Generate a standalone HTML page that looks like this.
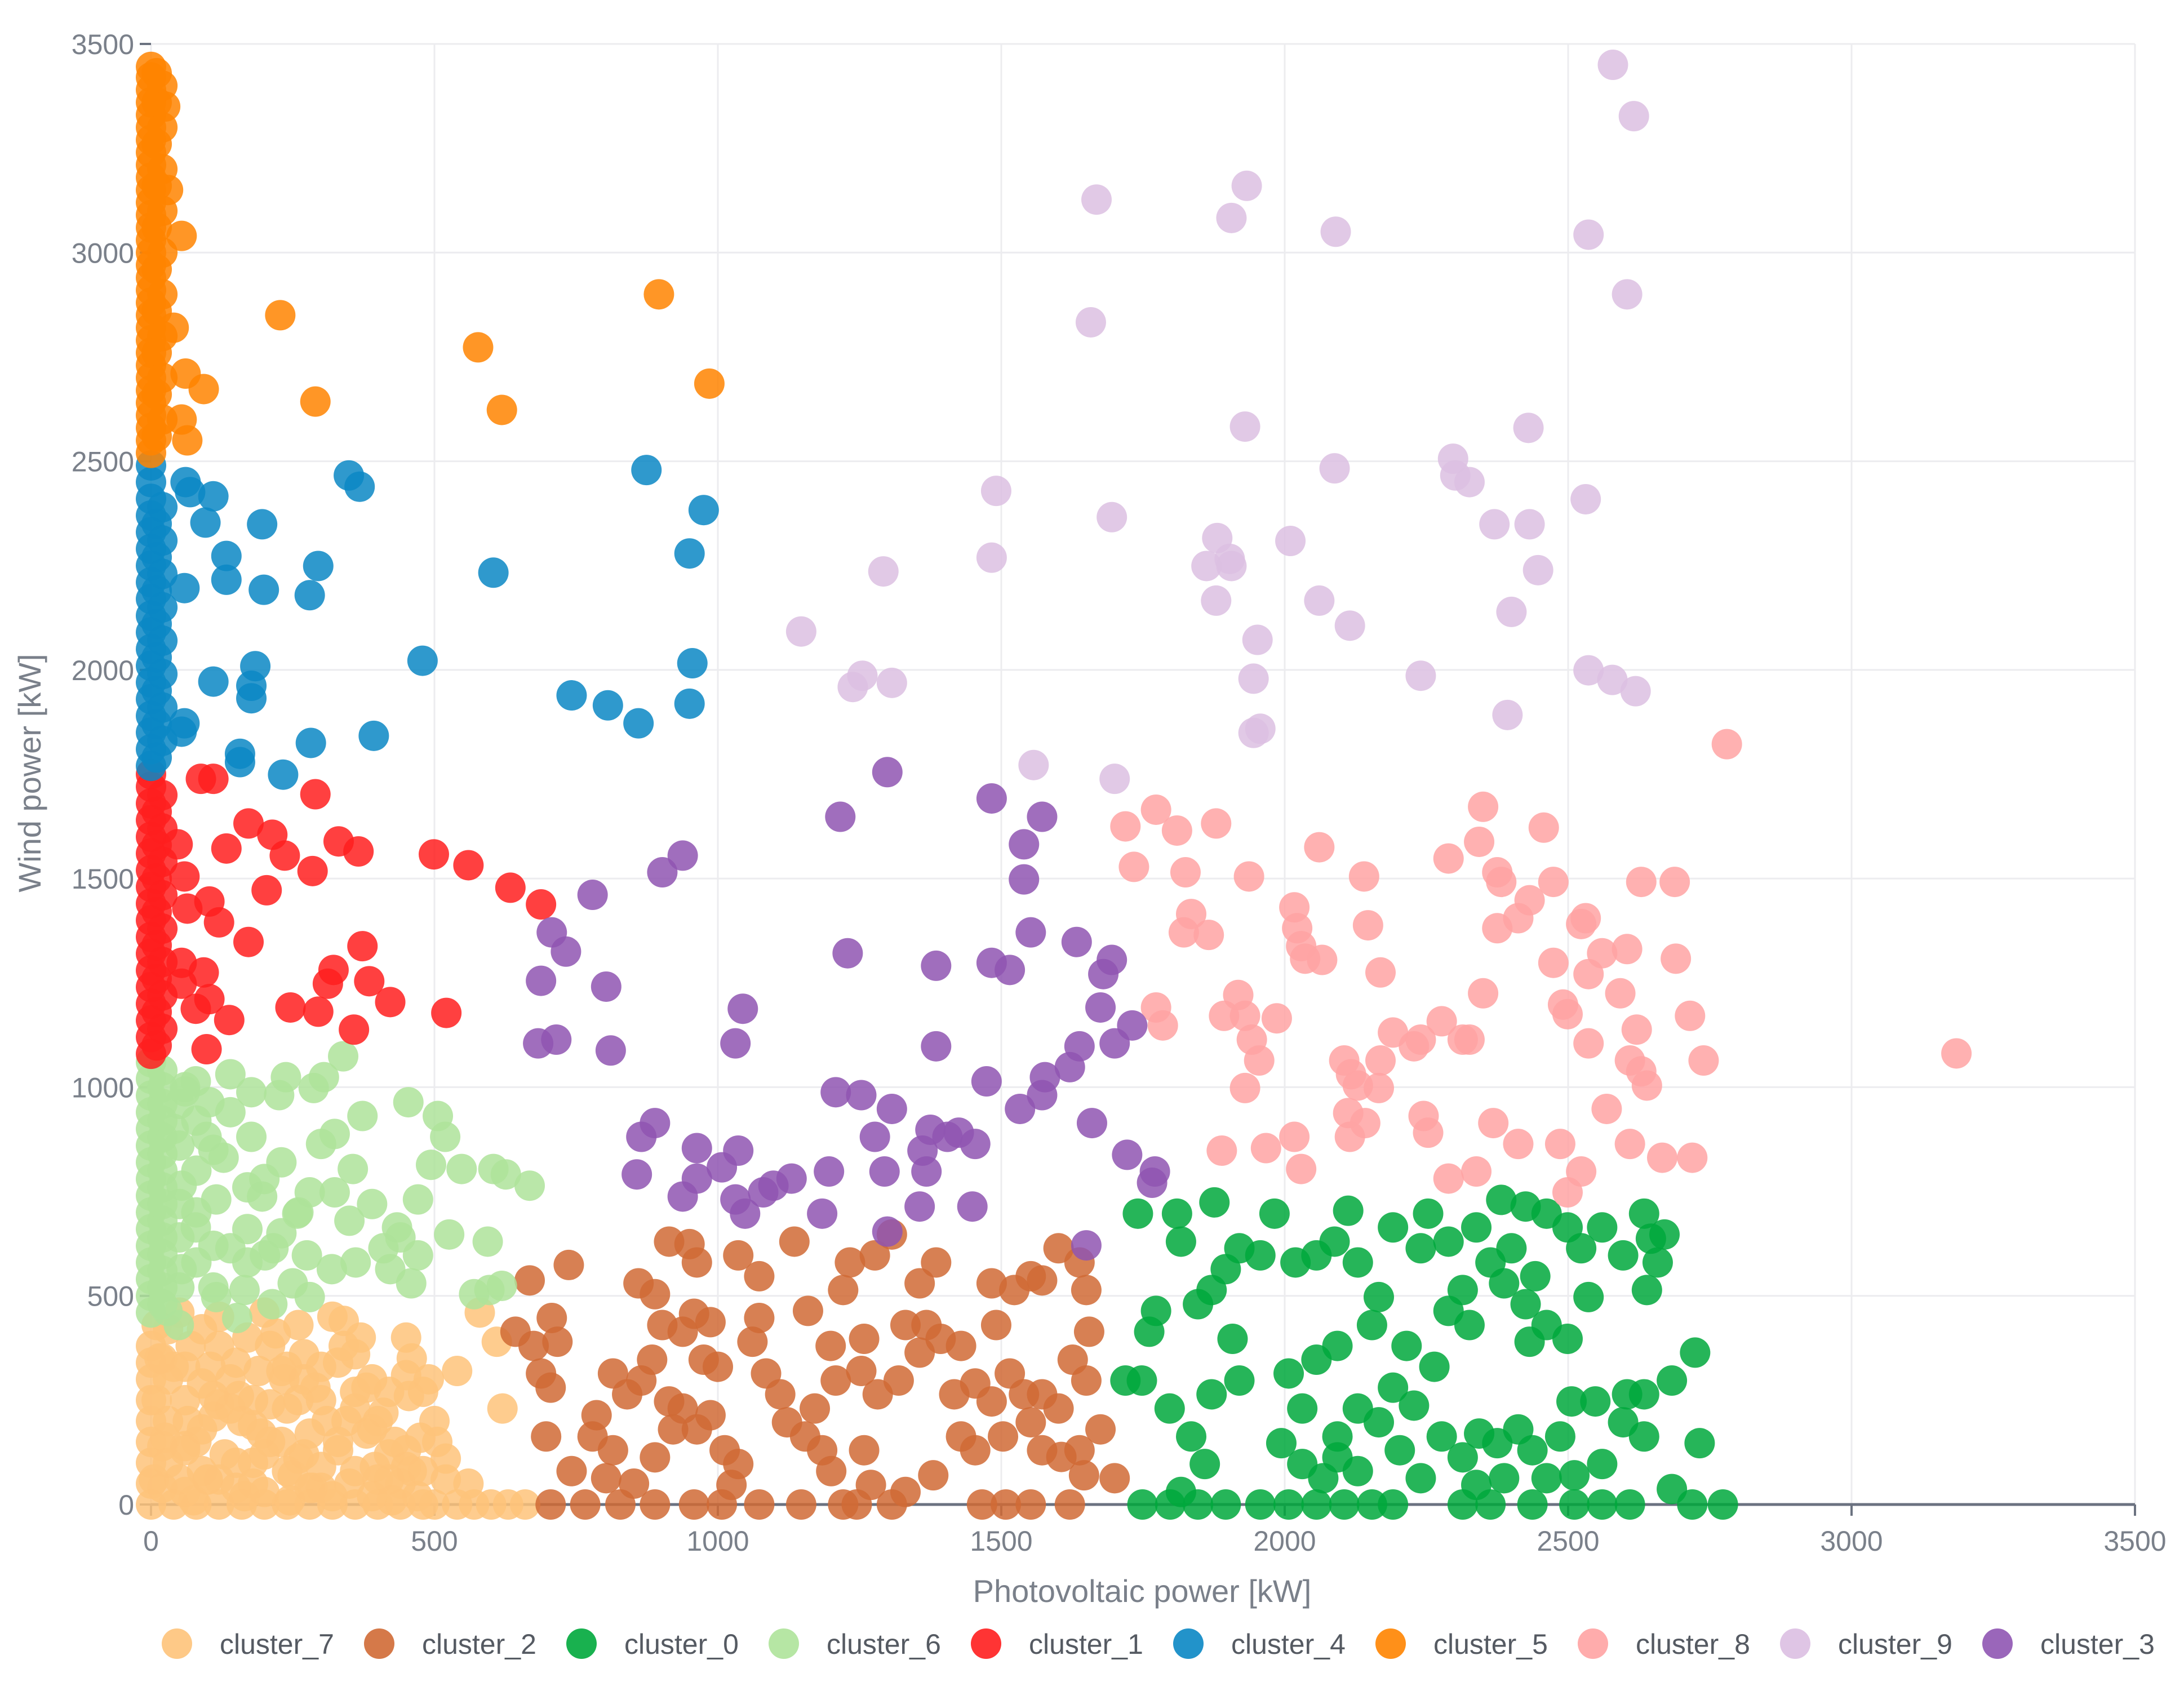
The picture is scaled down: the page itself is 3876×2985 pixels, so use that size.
<!DOCTYPE html>
<html><head><meta charset="utf-8">
<style>
html,body{margin:0;padding:0;background:#fff;}
svg{display:block;font-family:"Liberation Sans",sans-serif;}
</style></head>
<body>
<svg id="chart" width="3876" height="2985" viewBox="0 0 3876 2985" xmlns="http://www.w3.org/2000/svg">
<g id="grid"></g>
<g id="axes"></g>
<g id="points"></g>
<text x="2027" y="2843" font-size="56" fill="#7a808a" text-anchor="middle">Photovoltaic power [kW]</text>
<text transform="translate(72,1372) rotate(-90)" font-size="56" fill="#7a808a" text-anchor="middle">Wind power [kW]</text>
<g id="legend"></g>
</svg>
<script>
const xTicks=[0,500,1000,1500,2000,2500,3000,3500];
const yTicks=[0,500,1000,1500,2000,2500,3000,3500];
const seriesNames=["cluster_7","cluster_2","cluster_0","cluster_6","cluster_1","cluster_4","cluster_5","cluster_8","cluster_9","cluster_3"];
const seriesColors=["#fec37a","#d06a35","#00a83c","#aee39a","#ff1e1e","#0a87c4","#ff8400","#ffa3a3","#dcbfe2","#8f55b2"];

const c7x=[0,0,0,0,30,40,60,80,100,120,140,160,180,200,220,240,260,280,300,320,340,360,380,400,420,440,460,480,500,520,25,50,70,90,110,130,150,170,190,210,230,250,270,290,310,330,350,370,390,410,430,450,470,490,505,520,540,580,610,620,560,450,320,260,200,120,50,10,20,75,105,165,195,245,285,345,395,425,455,235,155,65,475,0,40,80,120,160,200,240,280,320,360,400,440,480,500,540,570,600,630,660,10,15,5,20,
 0,0,0,0,30,30,30,60,60,60,90,90,90,120,120,150,150,180,180,210,210,240,240,270,270,300,300,330,330,360,360,390,390,420,420,450,450,480,100,200,300,400,140,260,360,460,60,180,280,380,20,110,230,340];
const c7y=[380,300,200,100,420,330,250,150,60,380,300,200,100,30,410,330,250,170,90,20,440,360,280,200,120,50,350,270,200,110,160,60,380,290,210,120,40,400,320,240,150,70,360,280,200,130,50,400,300,220,150,90,20,300,150,60,320,460,390,230,50,400,450,430,460,450,460,250,40,10,330,20,170,10,40,200,90,10,260,300,260,200,160,0,0,0,0,0,0,0,0,0,0,0,0,0,0,0,0,0,0,0,430,350,60,140,
 50,150,250,340,100,200,300,30,130,330,80,180,420,60,240,100,340,50,250,150,380,80,230,120,300,40,250,150,340,80,230,20,180,60,270,130,310,80,60,120,330,60,230,110,270,80,140,190,40,170,350,260,320,380];

const c2x=[668,737,707,643,675,717,688,705,697,742,705,766,828,852,815,786,840,865,884,902,860,889,914,950,963,938,958,987,975,1000,938,963,987,1012,1036,1024,1007,958,1073,1147,1221,1245,1307,1331,1270,1200,1184,1171,1208,1253,1282,1319,1356,1368,1393,1429,1454,1483,1515,1540,1552,1572,1606,1638,1675,1650,1626,1655,1601,1552,1523,1491,1483,1385,1307,1277,1233,1221,1159,1135,1073,1036,1061,1085,1122,1110,1154,889,803,779,815,889,914,921,1073,1258,1380,1454,1466,1508,1552,1621,1646,1700,1601,1572,1503,1429,1417,1331,1356,1258,1199,1650,1572,1638];
const c2y=[537,574,447,414,380,390,314,280,163,80,0,0,0,50,130,214,264,297,347,430,530,504,630,624,580,414,457,437,347,330,230,180,214,130,97,47,0,0,0,0,0,0,0,30,47,80,130,230,297,320,264,297,364,430,397,380,290,247,314,264,197,130,114,130,180,297,347,414,614,547,514,430,530,580,647,597,580,514,464,630,547,597,390,314,197,264,163,0,63,163,314,113,247,180,447,130,70,130,0,0,0,0,70,63,230,264,163,163,264,430,530,397,380,514,537,580];

const c0x=[1741,1810,1876,1817,1773,1761,1719,1748,1797,1835,1859,1847,1896,1957,1749,1798,1817,1871,1920,1908,1847,1871,1896,1920,1957,1982,2019,2056,2088,2112,2129,2166,2191,2240,2253,2289,2314,2363,2338,2382,2425,2400,2442,2462,2499,2523,2536,2560,2597,2634,2646,2658,2639,2670,2724,2683,2634,2597,2548,2506,2486,2437,2412,2375,2343,2314,2277,2240,2203,2166,2129,2093,2068,2031,1994,2031,2007,2056,2093,2154,2215,2264,2289,2326,2387,2425,2462,2499,2432,2191,2228,2007,2056,2105,2154,2191,2314,2363,2437,2511,2560,2609,2719,2773,2683,2732,2511,2462,2387,2338,2129,2093,2560,2634,2604];
const c0y=[697,697,724,630,464,414,297,297,230,163,97,0,0,0,0,0,30,264,297,397,480,514,564,614,597,697,580,597,630,704,580,497,664,614,697,630,514,580,664,730,714,614,547,697,664,614,497,664,597,697,637,580,514,647,364,297,264,197,247,247,163,130,180,147,170,113,163,63,130,197,230,163,63,97,147,230,314,347,380,430,380,330,464,430,530,480,430,397,390,280,237,0,0,0,0,0,0,0,0,0,0,0,0,0,37,147,70,63,63,47,80,113,97,163,264];

const c6x=[0,0,0,0,0,0,0,0,0,0,0,0,0,0,0,0,20,20,20,20,20,20,20,20,20,20,20,20,20,20,20,79,103,140,98,128,54,115,79,140,54,115,165,177,177,226,238,287,305,339,300,324,373,356,280,258,196,216,275,319,250,214,324,280,361,410,434,422,471,459,471,454,506,519,494,548,604,626,668,594,526,570,597,619,201,152,49,29,40,60,
 50,50,50,50,50,80,80,80,80,110,110,110,170,170,170,230,230,260,350,390,440,60,140,200];
const c6y=[460,500,540,580,620,660,700,740,780,820,860,900,940,980,1020,1060,480,520,560,600,640,680,720,760,800,840,880,920,960,1000,1040,1014,964,1031,881,831,764,731,664,614,564,497,514,881,988,981,1024,998,1024,1074,864,888,931,804,748,697,738,614,597,564,530,480,748,497,580,614,664,564,597,530,731,964,931,881,814,804,804,791,764,630,647,504,514,524,597,447,430,464,900,1000,
 520,640,720,860,960,580,700,800,920,620,850,520,660,760,580,650,820,700,680,720,640,990,940,780];

const c1x=[0,0,0,0,0,0,0,0,0,0,0,0,0,0,0,0,0,0,10,10,10,10,10,10,10,10,47,59,64,88,110,133,172,214,236,204,103,120,172,54,54,93,103,79,98,138,290,285,331,366,499,560,634,688,373,322,312,385,422,246,295,358,521,20,20,20,20,20,20,20,20];
const c1y=[1080,1120,1160,1200,1240,1280,1320,1360,1400,1440,1480,1520,1560,1600,1640,1680,1720,1750,1100,1180,1260,1340,1420,1500,1580,1660,1582,1505,1428,1739,1739,1572,1632,1605,1555,1472,1445,1395,1348,1298,1248,1275,1211,1188,1091,1161,1702,1518,1589,1565,1558,1532,1478,1438,1338,1281,1248,1254,1204,1191,1181,1138,1178,1140,1220,1300,1380,1460,1540,1620,1700];

const c4x=[0,0,0,0,0,0,0,0,0,0,0,0,0,0,0,0,0,0,0,10,10,10,10,10,10,10,10,61,69,110,96,133,133,196,199,59,295,280,349,368,604,874,975,950,479,184,110,177,177,59,54,157,157,233,282,393,742,806,860,955,950,20,20,20,20,20,20,20,20];
const c4y=[1770,1810,1850,1890,1930,1970,2010,2050,2090,2130,2170,2210,2250,2290,2330,2370,2410,2450,2490,1790,1870,1950,2030,2110,2190,2270,2350,2450,2426,2416,2353,2273,2216,2349,2192,2196,2249,2179,2466,2439,2233,2479,2383,2279,2022,2009,1972,1932,1962,1872,1852,1799,1779,1749,1825,1842,1939,1915,1872,2016,1919,1830,1910,1990,2070,2150,2230,2310,2390];

const c5x=[0,0,0,0,0,0,0,0,0,0,0,0,0,0,0,0,0,0,0,0,0,0,0,0,0,0,0,0,0,0,0,0,10,10,10,10,10,10,10,10,10,10,54,228,93,61,290,54,64,577,619,896,985,30,25,40,20,20,20,20,20,20,20,20,20];
const c5y=[2520,2550,2580,2610,2640,2670,2700,2730,2760,2790,2820,2850,2880,2910,2940,2970,3000,3030,3060,3090,3120,3150,3180,3210,3240,3270,3300,3330,3360,3390,3420,3445,2560,2660,2760,2860,2960,3060,3160,3260,3360,3430,3040,2850,2673,2710,2643,2600,2550,2773,2623,2900,2686,3150,3350,2820,2600,2700,2800,2900,3000,3100,3200,3300,3400];

const c8x=[2780,3185,1719,1773,1810,1879,1734,1825,1937,2061,2140,2017,2022,2029,2036,1835,1822,1866,2147,2169,1918,1893,1930,1942,1955,1986,1773,1785,1889,1930,1967,2017,2029,2105,2117,2129,2112,2142,2166,2115,2191,2228,2240,2277,2314,2326,2350,2289,2343,2350,2375,2382,2412,2432,2375,2457,2474,2474,2491,2536,2531,2523,2560,2604,2536,2499,2592,2621,2609,2629,2639,2629,2688,2690,2715,2739,2719,2666,2609,2568,2523,2499,2486,2412,2368,2338,2289,2245,2253,2169,2066];
const c8y=[1822,1081,1625,1665,1615,1632,1528,1515,1505,1575,1505,1431,1381,1338,1308,1415,1371,1365,1388,1275,1221,1171,1171,1114,1064,1165,1191,1148,848,998,854,881,804,1064,1031,1004,938,914,998,881,1131,1098,1114,1158,1114,1114,1225,1548,1588,1672,1515,1492,1405,1448,1381,1622,1492,1298,1198,1271,1405,1391,1321,1331,1105,1175,1225,1138,1064,1038,1004,1492,1492,1308,1171,1064,831,831,864,948,798,748,864,864,914,798,781,931,891,1064,1305];

const c9x=[2579,2616,2536,2604,2090,1933,1906,1668,1658,1930,2088,2297,2301,2326,2430,2531,2370,2432,2447,2400,2010,1881,1862,1906,1903,1879,2061,2115,1952,1945,2240,2393,2536,2578,2619,1945,1957,1491,1483,1292,1147,1238,1255,1307,1557,1700,1695];
const c9y=[3450,3327,3043,2900,3050,3160,3083,3127,2833,2583,2483,2506,2466,2450,2580,2409,2349,2349,2239,2139,2309,2316,2249,2249,2266,2166,2166,2106,2072,1979,1986,1892,1999,1976,1949,1849,1859,2429,2269,2236,2092,1959,1986,1969,1772,1739,2366];

const c3x=[1299,1216,1483,1572,1540,1540,938,902,779,707,732,688,803,683,715,811,1044,1031,1229,1385,1483,1515,1552,1633,1695,1680,1675,1731,1700,1638,1621,1577,1572,1533,1474,1385,1660,1722,1771,1766,1650,1208,1253,1307,1277,1294,1361,1375,1405,1425,1454,1368,1356,1449,1299,1184,1130,1098,1080,1048,1031,1007,1036,963,889,865,857,938,963,1196];
const c3y=[1755,1648,1692,1648,1582,1498,1555,1515,1461,1371,1325,1255,1241,1105,1114,1088,1188,1105,1321,1291,1298,1281,1371,1348,1305,1271,1191,1148,1105,1098,1048,1024,981,948,1014,1098,914,838,798,771,621,988,981,948,881,798,848,898,881,891,864,798,714,714,654,697,781,764,748,697,731,808,848,854,914,881,791,738,781,798];

const seriesX=[c7x,c2x,c0x,c6x,c1x,c4x,c5x,c8x,c9x,c3x];
const seriesY=[c7y,c2y,c0y,c6y,c1y,c4y,c5y,c8y,c9y,c3y];

const NS="http://www.w3.org/2000/svg";
const X0=268,X1=3789,Y0=2670,Y1=78;
function sx(v){return X0+(v-0)/(3500-0)*(X1-X0);}
function sy(v){return Y0-(v-0)/(3500-0)*(Y0-Y1);}
function mk(tag,attrs){const e=document.createElementNS(NS,tag);for(const k in attrs)e.setAttribute(k,attrs[k]);return e;}

const grid=document.getElementById('grid');
const axes=document.getElementById('axes');
xTicks.forEach(t=>{
  const g=mk('line',{x1:sx(t),x2:sx(t),y1:Y1,y2:Y0,stroke:'#ececef','stroke-width':3});
  
  
  grid.appendChild(g);
  const tk=mk('line',{x1:sx(t),x2:sx(t),y1:Y0,y2:Y0+20,stroke:'#6b7280','stroke-width':4});
  
  
  axes.appendChild(tk);
  const lb=mk('text',{x:sx(t),y:Y0+82,'font-size':50,fill:'#7a808a','text-anchor':'middle'});
  lb.textContent=t;
  
  
  axes.appendChild(lb);
});
yTicks.forEach(t=>{
  const g=mk('line',{x1:X0,x2:X1,y1:sy(t),y2:sy(t),stroke:'#ececef','stroke-width':3});
  
  
  grid.appendChild(g);
  const tk=mk('line',{x1:X0-20,x2:X0,y1:sy(t),y2:sy(t),stroke:'#6b7280','stroke-width':4});
  
  
  axes.appendChild(tk);
  const lb=mk('text',{x:X0-30,y:sy(t)+18,'font-size':50,fill:'#7a808a','text-anchor':'end'});
  lb.textContent=t;
  
  
  axes.appendChild(lb);
});
const xa=mk('line',{x1:X0,x2:X1,y1:Y0,y2:Y0,stroke:'#6b7280','stroke-width':5});


axes.appendChild(xa);

const pts=document.getElementById('points');
seriesNames.forEach((name,i)=>{
  const g=mk('g',{fill:seriesColors[i],'fill-opacity':0.85});
  
  
  const xs=seriesX[i],ys=seriesY[i];
  for(let j=0;j<xs.length;j++){
    const c=mk('circle',{cx:sx(xs[j]),cy:sy(ys[j]),r:27});
    
    
    g.appendChild(c);
  }
  pts.appendChild(g);
});

const leg=document.getElementById('legend');
seriesNames.forEach((name,i)=>{
  const lx=314+359*i, ly=2917;
  const g=mk('g',{});
  
  
  const c=mk('circle',{cx:lx,cy:ly,r:27,fill:seriesColors[i],'fill-opacity':0.9});
  
  
  g.appendChild(c);
  const t=mk('text',{x:lx+76,y:ly+18,'font-size':50,fill:'#555a62'});
  t.textContent=name;
  
  
  g.appendChild(t);
  leg.appendChild(g);
});
</script>
</body></html>
